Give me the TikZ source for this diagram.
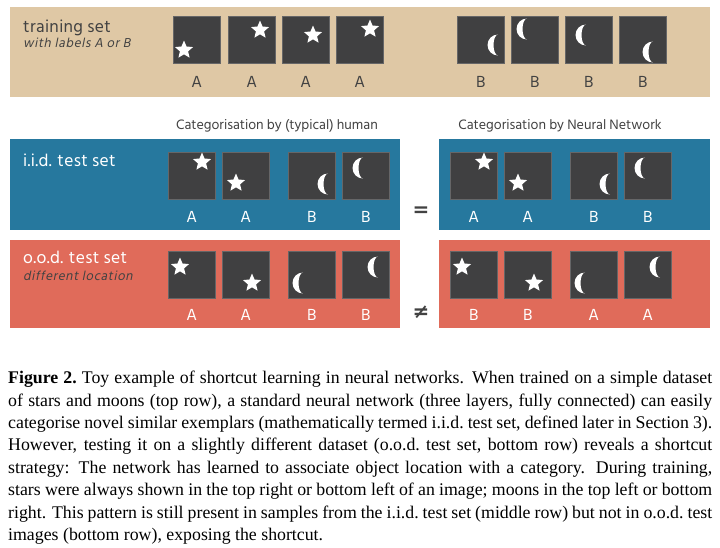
\documentclass[tikz,border=0pt]{standalone}
\usepackage{fontspec}
\setmainfont{Liberation Serif}
\newfontfamily\hindfont{Hind Siliguri}
\newfontfamily\hindwide{Hind Siliguri}[LetterSpace=2]
\newfontfamily\hindit{Hind Siliguri}[FakeSlant=0.2, LetterSpace=5]
\newfontfamily\symfont{DejaVu Sans}
\usepackage{xcolor}
\usepackage{tikz}
\usetikzlibrary{
    positioning,
    shapes.geometric
}
\definecolor{tanbg}{HTML}{DFC8A5}
\definecolor{iidblue}{HTML}{26789E}
\definecolor{oodred}{HTML}{E06B5A}
\definecolor{tilegray}{HTML}{404041}
\definecolor{inkgray}{HTML}{424242}
\tikzset{
    panel/.style={
        rectangle, fill=#1, draw=none,
        anchor=north west, inner sep=0pt
    },
    tile/.style={
        rectangle, fill=tilegray, draw=tilegray!80!white, line width=0.5pt,
        minimum size=47pt, inner sep=0pt, anchor=north west
    },
    starmark/.style={
        star, star points=5, star point ratio=2.2,
        fill=white, minimum size=19pt, inner sep=0pt
    },
    moon/.pic={
        \fill[white] (6,10.5) arc[start angle=90, end angle=270, radius=10.5]
            arc[start angle=270, end angle=90, x radius=4.5, y radius=10.5] -- cycle;
    },
    tilelabel/.style={
        font=\hindwide\fontsize{16.5}{18}\selectfont, text=inkgray, inner sep=0pt
    }
}
% tile with a star / a moon, its label below
\newcommand{\labelgap}{13pt}
\newcommand{\startile}[6]{%
    \node[tile] (#1) at (#2,#3) {};
    \node[starmark] (#1s) at ({#2+#4},{#3+#5}) {};
    \node[tilelabel, below=\labelgap of #1] (#1l) {#6};
}
\newcommand{\moontile}[6]{%
    \node[tile] (#1) at (#2,#3) {};
    \pic (#1m) at ({#2+#4},{#3+#5}) {moon};
    \node[tilelabel, below=\labelgap of #1] (#1l) {#6};
}

\begin{document}
\begin{tikzpicture}[
    x=1pt, y=-1pt,
    rowtitle/.style={font=\hindwide\fontsize{17.5}{19}\selectfont, text=inkgray, inner sep=0pt, anchor=base west},
    rowsub/.style={font=\hindit\fontsize{13.3}{15}\selectfont, text=inkgray, inner sep=0pt, anchor=base west},
    header/.style={font=\hindfont\fontsize{14}{16}\selectfont, text=inkgray, inner sep=0pt, anchor=base},
    relsign/.style={font=\symfont\bfseries\fontsize{20}{20}\selectfont, text=inkgray, inner sep=0pt},
    caption/.style={anchor=north west, inner sep=0pt, text width=704pt, align=justify,
        font=\fontsize{17.8}{22.4}\selectfont}
]
    \useasboundingbox (0,0) rectangle (720,547);
    \fill[white] (0,0) rectangle (720,547);

    % --- PANELS ---
    \node[panel=tanbg, minimum width=700pt, minimum height=90pt] (trainpanel) at (10,7) {};
    \node[panel=iidblue, minimum width=390pt, minimum height=91pt] (iidhum) at (10,139) {};
    \node[panel=iidblue, minimum width=271pt, minimum height=91pt] (iidnet) at (439,139) {};
    \node[panel=oodred, minimum width=390pt, minimum height=88pt] (oodhum) at (10,240) {};
    \node[panel=oodred, minimum width=271pt, minimum height=88pt] (oodnet) at (439,240) {};

    % --- ROW TITLES ---
    \node[rowtitle] (traintitle) at (23,32) {training set};
    \node[rowsub] (trainsub) at (23,47) {with labels A or B};
    \node[rowtitle, text=white] (iidtitle) at (23,166) {i.i.d. test set};
    \node[rowtitle, text=white] (oodtitle) at (23,263) {o.o.d. test set};
    \node[rowsub] (oodsub) at (23,280) {different location};

    \node[header] (humhead) at (277,129) {Categorisation by (typical) human};
    \node[header] (nethead) at (560,129) {Categorisation by Neural Network};

    % --- TRAINING SET ---
    \startile{trA1}{173}{16}{11}{34}{A}
    \startile{trA2}{228}{16}{32}{14}{A}
    \startile{trA3}{282}{16}{31}{19}{A}
    \startile{trA4}{336}{16}{34}{13}{A}
    \moontile{trB1}{457}{16}{35}{29}{B}
    \moontile{trB2}{511}{16}{10}{13}{B}
    \moontile{trB3}{565}{16}{15}{19}{B}
    \moontile{trB4}{619}{16}{28}{36}{B}

    % --- I.I.D. TEST SET ---
    \renewcommand{\labelgap}{12pt}
    \begin{scope}[tilelabel/.append style={text=white}]
        \startile{ihA1}{168}{152}{34}{10}{A}
        \startile{ihA2}{222}{152}{14}{31}{A}
        \moontile{ihB1}{288}{152}{34}{32}{B}
        \moontile{ihB2}{342}{152}{15}{16}{B}
        \startile{inA1}{450}{152}{34}{10}{A}
        \startile{inA2}{504}{152}{14}{31}{A}
        \moontile{inB1}{570}{152}{34}{32}{B}
        \moontile{inB2}{624}{152}{15}{16}{B}

    % --- O.O.D. TEST SET ---
        \renewcommand{\labelgap}{11pt}
        \startile{ohA1}{168}{251}{12}{16}{A}
        \startile{ohA2}{222}{251}{30}{32}{A}
        \moontile{ohB1}{288}{251}{9}{32}{B}
        \moontile{ohB2}{342}{251}{30}{16}{B}
        \startile{onA1}{450}{251}{12}{16}{B}
        \startile{onA2}{504}{251}{30}{32}{B}
        \moontile{onB1}{570}{251}{9}{32}{A}
        \moontile{onB2}{624}{251}{30}{16}{A}
    \end{scope}

    \node[relsign] (eqsign) at (421,212) {=};
    \node[relsign] (neqsign) at (421,312) {≠};

    % --- CAPTION ---
    \node[caption] (figcaption) at (8,371) {\textbf{Figure 2.}\ Toy example of shortcut learning in neural networks. When trained on a simple dataset\linebreak
    of stars and moons (top row), a standard neural network (three layers, fully connected) can easily\linebreak
    categorise novel similar exemplars (mathematically termed i.i.d.\ test set, defined later in Section 3).\linebreak
    However, testing it on a slightly different dataset (o.o.d.\ test set, bottom row) reveals a shortcut\linebreak
    strategy: The network has learned to associate object location with a category. During training,\linebreak
    stars were always shown in the top right or bottom left of an image; moons in the top left or bottom\linebreak
    right. This pattern is still present in samples from the i.i.d.\ test set (middle row) but not in o.o.d.\ test\linebreak
    images (bottom row), exposing the shortcut.};

\end{tikzpicture}
\end{document}
